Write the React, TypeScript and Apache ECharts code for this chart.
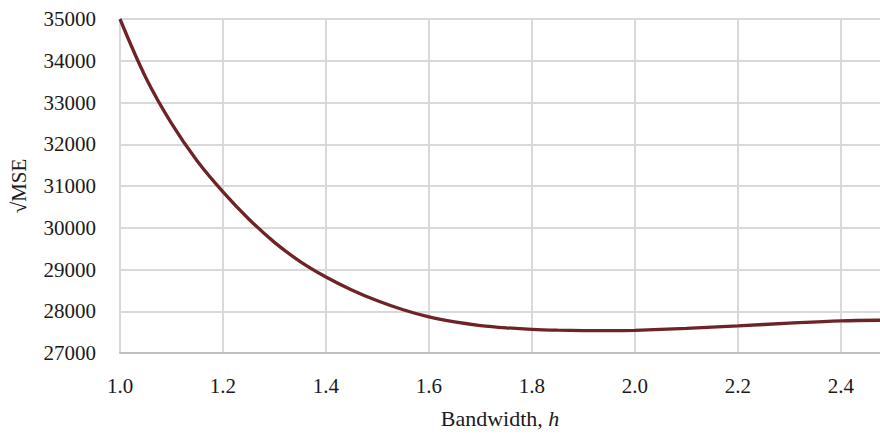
import React, { useEffect, useRef } from "react";
import * as echarts from "echarts";

const bandwidth = [1.0, 1.05, 1.1, 1.15, 1.2, 1.25, 1.3, 1.35, 1.4, 1.45, 1.5, 1.55, 1.6, 1.65, 1.7, 1.75, 1.8, 1.85, 1.9, 1.95, 2.0, 2.1, 2.2, 2.3, 2.4, 2.476];
const rmse = [35000, 33600, 32500, 31600, 30860, 30210, 29650, 29190, 28820, 28510, 28250, 28035, 27863, 27743, 27658, 27603, 27566, 27546, 27536, 27534, 27543, 27590, 27650, 27715, 27770, 27785];
const xTicks = [1.0, 1.2, 1.4, 1.6, 1.8, 2.0, 2.2, 2.4];
const yTicks = [27000, 28000, 29000, 30000, 31000, 32000, 33000, 34000, 35000];

const FONT = "'Liberation Serif', 'DejaVu Serif', serif";
const TEXT = "#1a1a1a";

export default function App() {
  const ref = useRef<HTMLDivElement>(null);
  useEffect(() => {
    document.body.style.margin = "0";
    const chart = echarts.init(ref.current!, null, { renderer: "svg" });
    chart.setOption({
      animation: false,
      backgroundColor: "#ffffff",
      grid: { left: 120, right: 0, top: 19, bottom: 81, outerBoundsMode: "none", containLabel: false },
      xAxis: {
        type: "value",
        min: xTicks[0],
        max: 2.476,
        interval: 0.2,
        name: "{a|Bandwidth, }{b|h}",
        nameLocation: "middle",
        nameGap: 54,
        nameTextStyle: {
          rich: {
            a: { fontFamily: FONT, fontSize: 22, color: TEXT },
            b: { fontFamily: FONT, fontSize: 22, color: TEXT, fontStyle: "italic" },
          },
        },
        axisLine: { show: true, lineStyle: { color: "#bfbfbf", width: 2 } },
        axisTick: { show: false },
        axisLabel: {
          showMaxLabel: false,
          margin: 22,
          fontFamily: FONT,
          fontSize: 21,
          color: TEXT,
          formatter: (v: number) => (xTicks.some((t) => Math.abs(t - v) < 1e-6) ? v.toFixed(1) : ""),
        },
        splitLine: { show: true, showMaxLine: false, lineStyle: { color: "#d9d9d9", width: 2 } },
      },
      yAxis: {
        type: "value",
        min: yTicks[0],
        max: yTicks[yTicks.length - 1],
        interval: 1000,
        name: "√MSE",
        nameLocation: "middle",
        nameGap: 91,
        nameTextStyle: { fontFamily: FONT, fontSize: 21, color: TEXT },
        axisLine: { show: false },
        axisTick: { show: false },
        axisLabel: {
          margin: 24,
          fontFamily: FONT,
          fontSize: 21,
          color: TEXT,
          formatter: (v: number) => String(v),
        },
        splitLine: { show: true, lineStyle: { color: "#d9d9d9", width: 2 } },
      },
      series: [
        {
          type: "line",
          data: bandwidth.map((x, i) => [x, rmse[i]]),
          smooth: 0.35,
          showSymbol: false,
          lineStyle: { color: "#6e2326", width: 3.3 },
        },
      ],
    });
    return () => chart.dispose();
  }, []);
  return <div ref={ref} style={{ width: 880, height: 434 }} />;
}
